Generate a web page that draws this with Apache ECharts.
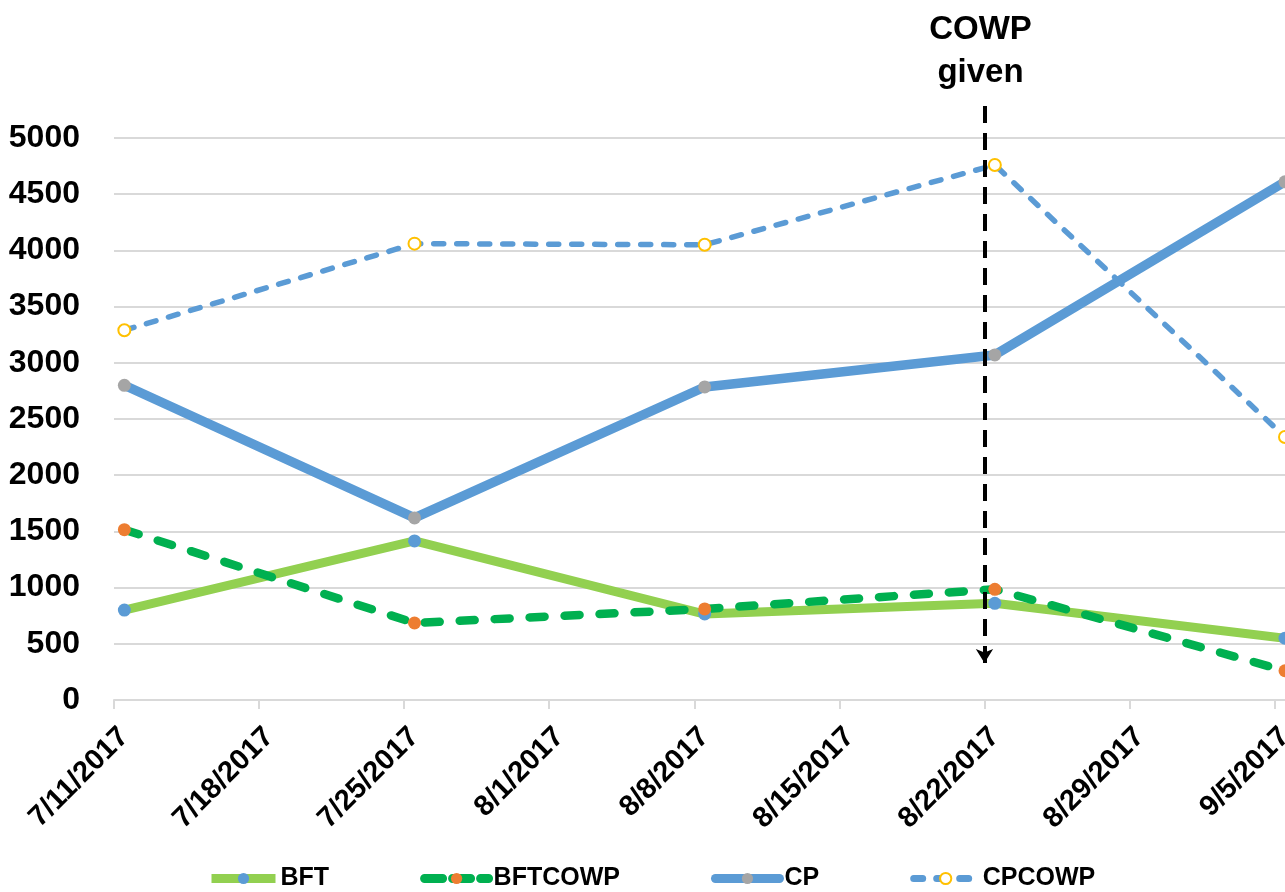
<!DOCTYPE html>
<html>
<head>
<meta charset="utf-8">
<script src="https://cdn.jsdelivr.net/npm/echarts@6/dist/echarts.min.js"></script>
<style>
    html, body { margin: 0; padding: 0; background: #fff; }
    #chart { width: 1285px; height: 892px; }
</style>
</head>
<body>
<div id="chart"></div>
<script>
// sample dates and values
const sampleDates = ['7/11/2017', '7/25/2017', '8/8/2017', '8/22/2017', '9/5/2017'];
const bftValues = [800, 1415, 765, 860, 550];
const bftCowpValues = [1515, 685, 810, 985, 260];
const cpValues = [2800, 1620, 2785, 3070, 4610];
const cpCowpValues = [3290, 4060, 4050, 4760, 2340];

// weekly tick labels on the date axis
const weekLabels = ['7/11/2017', '7/18/2017', '7/25/2017', '8/1/2017', '8/8/2017',
    '8/15/2017', '8/22/2017', '8/29/2017', '9/5/2017'];
const cowpDate = '8/22/2017';
const cowpText = 'COWP\ngiven';

const FONT = 'Liberation Sans';

// days since first tick
const toDay = (s) => {
    const [m, d, y] = s.split('/').map(Number);
    const [m0, d0, y0] = weekLabels[0].split('/').map(Number);
    return (Date.UTC(y, m - 1, d) - Date.UTC(y0, m0 - 1, d0)) / 86400000;
};
const lastDay = toDay(weekLabels[weekLabels.length - 1]);

// excel puts the points in the middle of the day
const pairs = (vals) => vals.map((v, i) => [toDay(sampleDates[i]) + 0.5, v]);

const chart = echarts.init(document.getElementById('chart'));

const option = {
    animation: false,
    grid: [
        { left: 114, right: 0, top: 138, bottom: 192, outerBoundsMode: 'none' },
        // taller grid only for the "COWP given" marker line
        { left: 114, right: 0, top: 104, bottom: 229, outerBoundsMode: 'none' }
    ],
    legend: {
        data: [
            { name: 'BFT', lineStyle: { width: 9 } },
            { name: 'BFTCOWP', lineStyle: { width: 9, type: [18, 10], cap: 'round' } },
            { name: 'CP', lineStyle: { width: 9, cap: 'round' } },
            { name: 'CPCOWP', lineStyle: { width: 7, type: [9, 14], cap: 'round' } }
        ],
        left: 207,
        top: 866,
        padding: 0,
        itemWidth: 64,
        itemHeight: 14,
        itemGap: 91,
        textStyle: { fontFamily: FONT, fontWeight: 'bold', fontSize: 25, color: '#000' }
    },
    xAxis: [
        {
            type: 'value',
            min: 0,
            max: lastDay + 0.5,
            interval: 7,
            axisLine: { show: true, onZero: false, lineStyle: { color: '#d9d9d9', width: 2 } },
            axisTick: { show: true, length: 9, lineStyle: { color: '#d9d9d9', width: 2 } },
            splitLine: { show: false },
            axisLabel: {
                rotate: 45,
                margin: 22,
                verticalAlign: 'top',
                showMaxLabel: false,
                fontFamily: FONT,
                fontWeight: 'bold',
                fontSize: 29,
                color: '#000',
                formatter: (v) => (v % 7 === 0 ? weekLabels[v / 7] || '' : '')
            }
        },
        { gridIndex: 1, type: 'value', min: 0, max: lastDay + 0.5, show: false }
    ],
    yAxis: [
        {
            type: 'value',
            min: 0,
            max: 5000,
            interval: 500,
            axisLine: { show: false },
            axisTick: { show: false },
            splitLine: { lineStyle: { color: '#d9d9d9', width: 2 } },
            axisLabel: {
                margin: 34,
                fontFamily: FONT,
                fontWeight: 'bold',
                fontSize: 32,
                color: '#000',
                formatter: (v) => String(v)
            }
        },
        { gridIndex: 1, type: 'value', min: 0, max: 1, show: false }
    ],
    series: [
        {
            name: 'BFT',
            type: 'line',
            data: pairs(bftValues),
            symbol: 'circle',
            symbolSize: 13,
            lineStyle: { color: '#92d050', width: 9 },
            itemStyle: { color: '#5b9bd5' }
        },
        {
            name: 'BFTCOWP',
            type: 'line',
            data: pairs(bftCowpValues),
            symbol: 'circle',
            symbolSize: 13,
            lineStyle: { color: '#00b050', width: 8.5, type: [15, 20], cap: 'round' },
            itemStyle: { color: '#ed7d31' }
        },
        {
            name: 'CP',
            type: 'line',
            data: pairs(cpValues),
            symbol: 'circle',
            symbolSize: 13,
            lineStyle: { color: '#5b9bd5', width: 9.5 },
            itemStyle: { color: '#a5a5a5' }
        },
        {
            name: 'CPCOWP',
            type: 'line',
            data: pairs(cpCowpValues),
            symbol: 'circle',
            symbolSize: 12,
            lineStyle: { color: '#5b9bd5', width: 5.5, type: [10, 13], cap: 'round' },
            itemStyle: { color: '#fff', borderColor: '#ffc000', borderWidth: 2 }
        },
        {
            name: 'marker',
            type: 'line',
            xAxisIndex: 1,
            yAxisIndex: 1,
            data: [],
            markLine: {
                silent: true,
                symbol: ['arrow', 'none'],
                symbolSize: [13, 14],
                lineStyle: { color: '#000', width: 4, type: [17, 10] },
                label: {
                    show: true,
                    position: 'end',
                    distance: 10,
                    padding: [0, 8, 0, 0],
                    formatter: cowpText,
                    fontFamily: FONT,
                    fontWeight: 'bold',
                    fontSize: 33,
                    lineHeight: 43,
                    color: '#000'
                },
                data: [{ xAxis: toDay(cowpDate) }]
            }
        }
    ]
};

chart.setOption(option);
</script>
</body>
</html>
